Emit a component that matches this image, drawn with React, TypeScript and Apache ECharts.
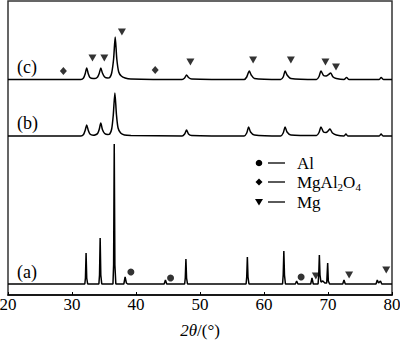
import React, { useEffect, useRef } from "react";
import * as echarts from "echarts";

// x: 2θ (degrees); y: intensity in arbitrary stacked units
const xTicks = [20, 30, 40, 50, 60, 70, 80];

const traceA: number[][] = [
  [20, 11], [32.0, 11], [32.1, 17], [32.2, 42], [32.3, 17], [32.45, 11],
  [34.2, 11], [34.3, 20], [34.4, 57], [34.5, 20], [34.65, 11],
  [36.4, 11], [36.5, 30], [36.6, 151], [36.7, 30], [36.85, 11],
  [38.1, 11], [38.3, 18], [38.5, 12], [38.7, 11],
  [44.4, 11], [44.6, 15], [44.8, 11],
  [47.6, 11], [47.7, 17], [47.8, 36], [47.9, 17], [48.05, 11],
  [57.2, 11], [57.3, 18], [57.4, 38], [57.5, 18], [57.65, 11],
  [62.9, 11], [63.0, 20], [63.1, 44], [63.2, 20], [63.35, 11],
  [64.9, 11], [65.1, 14], [65.3, 11],
  [67.3, 11], [67.5, 17], [67.7, 11],
  [68.45, 11], [68.55, 20], [68.65, 40], [68.75, 20], [68.9, 13],
  [69.2, 14], [69.5, 12], [69.8, 12], [69.95, 32], [70.05, 14], [70.25, 11],
  [72.3, 11], [72.5, 15], [72.7, 11],
  [77.5, 11], [77.7, 15], [77.9, 12], [78.2, 14], [78.4, 11],
  [80, 11],
];

const traceB: number[][] = [
  [20, 159], [31.4, 159], [31.8, 160.5], [32.05, 164.5], [32.3, 170], [32.55, 164.5], [32.8, 161], [33.3, 159.8],
  [33.6, 160], [34.0, 161.5], [34.25, 165.5], [34.5, 172], [34.75, 165.5], [35.1, 161.5], [35.6, 160.5],
  [35.9, 161], [36.2, 166], [36.45, 180], [36.7, 202], [36.95, 180], [37.2, 167], [37.6, 162], [38.2, 160], [39.2, 159.5],
  [47.2, 159], [47.6, 161], [47.9, 165], [48.2, 161], [48.7, 159.5],
  [56.9, 159], [57.3, 162], [57.6, 168], [57.9, 163], [58.5, 160],
  [62.6, 159], [63.0, 162], [63.3, 168], [63.6, 163], [64.2, 160],
  [68.2, 159.5], [68.6, 162.5], [68.9, 168], [69.3, 163], [69.7, 162.5],
  [70.0, 164], [70.3, 166], [70.7, 162], [71.3, 160],
  [72.5, 159], [72.8, 161], [73.1, 159],
  [78.0, 159], [78.3, 161], [78.6, 159], [80, 159],
];

const traceC: number[][] = [
  [20, 215.5], [31.4, 215.5], [31.8, 217], [32.05, 221], [32.3, 227], [32.55, 221], [32.8, 217.5], [33.3, 216.5],
  [33.6, 216.5], [34.0, 218], [34.25, 221.5], [34.5, 227], [34.75, 222], [35.1, 218], [35.6, 217],
  [35.9, 217.5], [36.2, 222], [36.5, 236], [36.75, 258], [37.0, 236], [37.3, 223], [37.7, 219], [38.3, 217], [39.2, 216],
  [47.2, 215.5], [47.6, 217], [47.9, 220], [48.2, 217.5], [48.7, 216],
  [56.9, 215.5], [57.3, 218], [57.7, 224], [58.0, 220], [58.5, 216.5],
  [62.6, 215.5], [63.0, 218], [63.3, 224], [63.6, 220], [64.2, 216.5],
  [68.2, 215.5], [68.6, 218.5], [68.9, 224], [69.3, 219.5], [69.7, 219],
  [70.1, 220.5], [70.4, 222], [70.8, 218], [71.3, 216.5],
  [72.5, 215.5], [72.9, 217.5], [73.3, 215.5],
  [78.0, 215.5], [78.3, 217.5], [78.7, 215.5], [80, 215.5],
];

const alMarks: number[][] = [[39.2, 23], [45.4, 17], [65.8, 18]];
const spinelMarks: number[][] = [[28.65, 224], [43.0, 225]];
const mgMarks: number[][] = [
  [68.1, 19], [73.3, 20], [79.1, 25],
  [33.2, 237], [35.05, 237], [37.8, 263], [48.5, 233],
  [58.3, 235], [64.2, 235], [69.6, 233], [71.25, 228],
];

const traceLabels = ["(a)", "(b)", "(c)"];
const traceLabelY = [272, 123, 67];
const legendNames = ["Al", "MgAl{s|2}O{s|4}", "Mg"];

const FONT = "Liberation Serif";
const AXFONT = "Liberation Serif, Times New Roman, serif";

export default function App() {
  const ref = useRef<HTMLDivElement>(null);
  useEffect(() => {
    document.body.style.margin = "0";
    document.body.style.fontFamily = "Liberation Serif, serif";
    const chart = echarts.init(ref.current!, null, { renderer: "svg" });
    const lineBase = {
      type: "line",
      showSymbol: false,
      symbol: "none",
      lineStyle: { color: "#000", width: 1.5 },
      silent: true,
    };
    const legendY = [163, 182, 202];
    const graphics: any[] = [];
    traceLabels.forEach((t, i) => {
      graphics.push({
        type: "text",
        x: 17,
        y: traceLabelY[i],
        style: { text: t, fontSize: 18, fontFamily: FONT, fill: "#000", verticalAlign: "middle" },
      });
    });
    graphics.push({ type: "circle", shape: { cx: 259, cy: legendY[0], r: 3.3 }, style: { fill: "#000" } });
    graphics.push({
      type: "polygon",
      shape: { points: [[259, legendY[1] - 3.5], [262.5, legendY[1]], [259, legendY[1] + 3.5], [255.5, legendY[1]]] },
      style: { fill: "#000" },
    });
    graphics.push({
      type: "polygon",
      shape: { points: [[255, legendY[2] - 3], [263, legendY[2] - 3], [259, legendY[2] + 3.5]] },
      style: { fill: "#000" },
    });
    legendY.forEach((y, i) => {
      graphics.push({ type: "line", shape: { x1: 268, y1: y, x2: 285, y2: y }, style: { stroke: "#000", lineWidth: 1.3 } });
      graphics.push({
        type: "text",
        x: 297,
        y: y,
        style: {
          text: legendNames[i],
          fontSize: 17,
          fontFamily: FONT,
          fill: "#000",
          verticalAlign: "middle",
          rich: {
            s: { fontSize: 11, fontFamily: FONT, fill: "#000", verticalAlign: "bottom", padding: [9, 0, 0, 0] },
          },
        },
      });
    });

    chart.setOption({
      animation: false,
      backgroundColor: "#fff",
      textStyle: { fontFamily: AXFONT },
      grid: {
        left: 8, right: 8, top: 1, bottom: 45,
        outerBoundsMode: "none",
        containLabel: false,
        show: true, borderColor: "#333", borderWidth: 1.5,
      },
      xAxis: {
        type: "value",
        min: xTicks[0],
        max: xTicks[xTicks.length - 1],
        interval: 10,
        name: "{i|2θ}{n|/(°)}",
        nameLocation: "middle",
        nameGap: 27,
        nameTextStyle: {
          fontSize: 17,
          fontFamily: AXFONT,
          fontWeight: "normal",
          color: "#000",
          rich: {
            i: { fontSize: 17, fontFamily: AXFONT, fontStyle: "italic", fontWeight: "normal", color: "#000" },
            n: { fontSize: 17, fontFamily: AXFONT, fontWeight: "normal", color: "#000" },
          },
        },
        axisLine: { lineStyle: { color: "#000", width: 1.5 } },
        axisTick: { inside: true, length: 3, lineStyle: { color: "#000" } },
        axisLabel: {
          fontSize: 17,
          fontFamily: AXFONT,
          fontWeight: "normal",
          color: "#000",
          margin: 1,
        },
        splitLine: { show: false },
      },
      yAxis: {
        type: "value",
        min: 0,
        max: 294,
        show: false,
        splitLine: { show: false },
      },
      series: [
        { ...lineBase, name: "a", data: traceA },
        { ...lineBase, name: "b", data: traceB, smooth: 0.25 },
        { ...lineBase, name: "c", data: traceC, smooth: 0.25 },
        { type: "scatter", name: "Al", data: alMarks, symbol: "circle", symbolSize: 7, itemStyle: { color: "#000" }, z: 5 },
        { type: "scatter", name: "MgAl2O4", data: spinelMarks, symbol: "diamond", symbolSize: [7, 8], itemStyle: { color: "#000" }, z: 5 },
        { type: "scatter", name: "Mg", data: mgMarks, symbol: "triangle", symbolRotate: 180, symbolSize: [8, 7], itemStyle: { color: "#000" }, z: 5 },
      ],
      graphic: graphics,
    });
    return () => chart.dispose();
  }, []);
  return <div ref={ref} style={{ position: "fixed", left: 0, top: 0, width: 400, height: 340 }} />;
}
